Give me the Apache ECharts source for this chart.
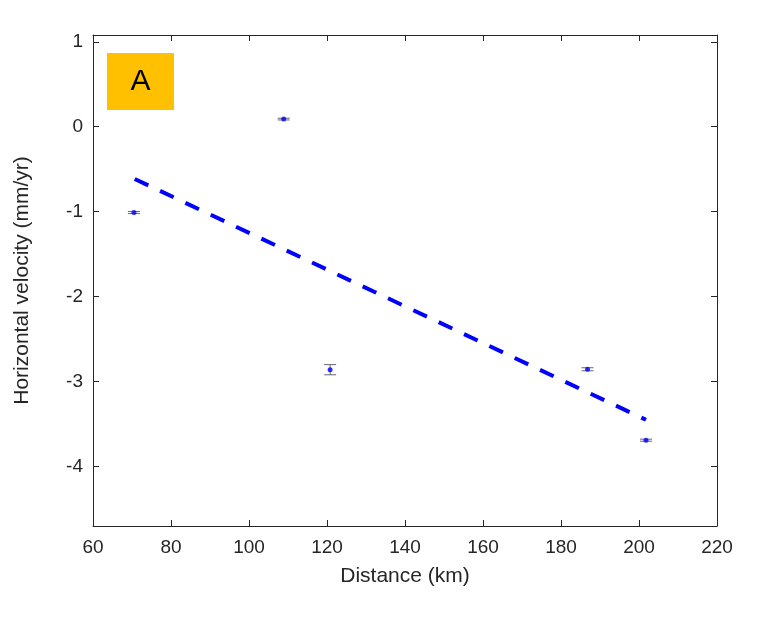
<!DOCTYPE html>
<html>
<head>
<meta charset="utf-8">
<script src="https://cdn.jsdelivr.net/npm/echarts@6/dist/echarts.min.js"></script>
<style>
  html, body { margin: 0; padding: 0; background: #fff; }
  #chart { width: 768px; height: 618px; }
</style>
</head>
<body>
<div id="chart"></div>
<script>
// 测点数据
var distance = [70.5, 108.9, 120.8, 186.8, 201.8];
var velocity = [-1.01, 0.09, -2.86, -2.855, -3.69];
var velErr = [0.012, 0.01, 0.06, 0.018, 0.012];
// 拟合直线
var fitX = [70.7, 201.8];
var fitY = [-0.615, -3.45];
// 刻度
var yTicks = [-4, -3, -2, -1, 0, 1];

var chart = echarts.init(document.getElementById("chart"));

var axisColor = "#262626";
var fontFam = "'Liberation Sans', Arial, sans-serif";

var pts = distance.map(function (d, i) { return [d, velocity[i]]; });
var errData = distance.map(function (d, i) {
  return [d, velocity[i] - velErr[i], velocity[i] + velErr[i]];
});
var fitData = fitX.map(function (x, i) { return [x, fitY[i]]; });

var option = {
  animation: false,
  grid: { left: 93, top: 35, right: 51, bottom: 92, containLabel: false },
  xAxis: [
    {
      type: "value",
      min: 60,
      max: 220,
      interval: 20,
      name: "Distance (km)",
      nameLocation: "middle",
      nameGap: 40,
      nameTextStyle: { color: axisColor, fontSize: 21, fontFamily: fontFam },
      axisLine: { show: true, onZero: false, lineStyle: { color: axisColor, width: 1 } },
      axisTick: { show: true, inside: true, length: 6, lineStyle: { color: axisColor } },
      axisLabel: { color: axisColor, fontSize: 19, fontFamily: fontFam, margin: 12 },
      splitLine: { show: false }
    },
    {
      type: "value",
      position: "top",
      min: 60,
      max: 220,
      interval: 20,
      axisLine: { show: true, onZero: false, lineStyle: { color: axisColor, width: 1 } },
      axisTick: { show: true, inside: true, length: 6, lineStyle: { color: axisColor } },
      axisLabel: { show: false },
      splitLine: { show: false }
    }
  ],
  yAxis: [
    {
      type: "value",
      min: -4.7,
      max: 1.08,
      name: "Horizontal velocity (mm/yr)",
      nameLocation: "middle",
      nameGap: 60,
      nameTextStyle: { color: axisColor, fontSize: 21, fontFamily: fontFam },
      axisLine: { show: true, onZero: false, lineStyle: { color: axisColor, width: 1 } },
      axisTick: { show: true, inside: true, length: 6, customValues: yTicks, lineStyle: { color: axisColor } },
      axisLabel: { color: axisColor, fontSize: 19, fontFamily: fontFam, margin: 10, customValues: yTicks },
      splitLine: { show: false }
    },
    {
      type: "value",
      position: "right",
      min: -4.7,
      max: 1.08,
      axisLine: { show: true, onZero: false, lineStyle: { color: axisColor, width: 1 } },
      axisTick: { show: true, inside: true, length: 6, customValues: yTicks, lineStyle: { color: axisColor } },
      axisLabel: { show: false },
      splitLine: { show: false }
    }
  ],
  series: [
    {
      type: "line",
      data: fitData,
      symbol: "none",
      lineStyle: { color: "#0000FF", width: 4, type: [15, 13], cap: "butt" },
      z: 2
    },
    {
      type: "custom",
      data: errData,
      renderItem: function (params, api) {
        var x = api.value(0);
        var lo = api.coord([x, api.value(1)]);
        var hi = api.coord([x, api.value(2)]);
        var hw = 6;
        var style = { stroke: "#666677", lineWidth: 1, fill: null };
        return {
          type: "group",
          children: [
            { type: "line", shape: { x1: lo[0], y1: lo[1], x2: hi[0], y2: hi[1] }, style: style },
            { type: "line", shape: { x1: lo[0] - hw, y1: lo[1], x2: lo[0] + hw, y2: lo[1] }, style: style },
            { type: "line", shape: { x1: hi[0] - hw, y1: hi[1], x2: hi[0] + hw, y2: hi[1] }, style: style }
          ]
        };
      },
      z: 3
    },
    {
      type: "scatter",
      data: pts,
      symbol: "circle",
      symbolSize: 5,
      itemStyle: { color: "#0000FF" },
      z: 4
    }
  ],
  graphic: [
    {
      type: "group",
      left: 107,
      top: 53,
      children: [
        { type: "rect", shape: { x: 0, y: 0, width: 67, height: 57 }, style: { fill: "#FFC000" } },
        {
          type: "text",
          x: 33.5,
          y: 29,
          style: {
            text: "A",
            fill: "#000",
            font: "30px " + fontFam,
            textAlign: "center",
            textVerticalAlign: "middle"
          }
        }
      ]
    }
  ]
};

chart.setOption(option);
</script>
</body>
</html>
